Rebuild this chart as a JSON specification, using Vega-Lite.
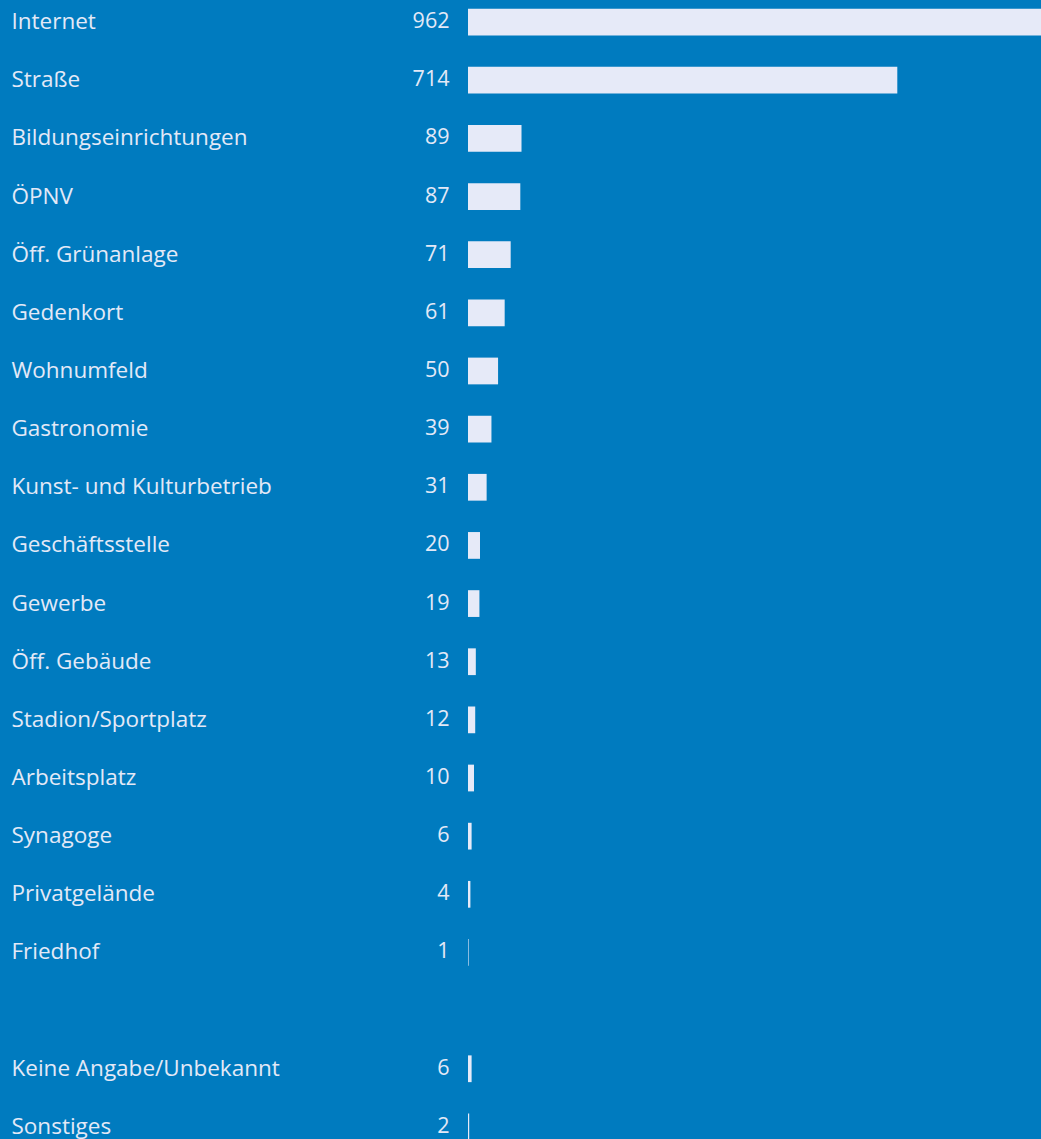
{
  "$schema": "https://vega.github.io/schema/vega-lite/v6.json",
  "autosize": "none",
  "width": 573,
  "height": 1149,
  "padding": {"left": 468, "top": 0, "right": 0, "bottom": 0},
  "background": "#007BBF",
  "config": {"view": {"stroke": null}},
  "data": {"values": [
    {"ort": "Internet", "anzahl": 962},
    {"ort": "Straße", "anzahl": 714},
    {"ort": "Bildungseinrichtungen", "anzahl": 89},
    {"ort": "ÖPNV", "anzahl": 87},
    {"ort": "Öff. Grünanlage", "anzahl": 71},
    {"ort": "Gedenkort", "anzahl": 61},
    {"ort": "Wohnumfeld", "anzahl": 50},
    {"ort": "Gastronomie", "anzahl": 39},
    {"ort": "Kunst- und Kulturbetrieb", "anzahl": 31},
    {"ort": "Geschäftsstelle", "anzahl": 20},
    {"ort": "Gewerbe", "anzahl": 19},
    {"ort": "Öff. Gebäude", "anzahl": 13},
    {"ort": "Stadion/Sportplatz", "anzahl": 12},
    {"ort": "Arbeitsplatz", "anzahl": 10},
    {"ort": "Synagoge", "anzahl": 6},
    {"ort": "Privatgelände", "anzahl": 4},
    {"ort": "Friedhof", "anzahl": 1},
    {"ort": "Keine Angabe/Unbekannt", "anzahl": 6},
    {"ort": "Sonstiges", "anzahl": 2}
  ]},
  "encoding": {
    "y": {
      "field": "ort",
      "type": "nominal",
      "scale": {
        "domain": ["Internet", "Straße", "Bildungseinrichtungen", "ÖPNV", "Öff. Grünanlage", "Gedenkort", "Wohnumfeld", "Gastronomie", "Kunst- und Kulturbetrieb", "Geschäftsstelle", "Gewerbe", "Öff. Gebäude", "Stadion/Sportplatz", "Arbeitsplatz", "Synagoge", "Privatgelände", "Friedhof", " ", "Keine Angabe/Unbekannt", "Sonstiges"],
        "paddingInner": 0.54,
        "paddingOuter": 0.15
      },
      "axis": {
        "title": null,
        "domain": false,
        "ticks": false,
        "labelAlign": "left",
        "labelPadding": 457,
        "labelLimit": 440,
        "labelColor": "#E3E9F7",
        "labelFont": "Open Sans",
        "labelFontSize": 22.5,
        "labelBaseline": "middle",
        "labelOffset": 0
      }
    }
  },
  "layer": [
    {
      "mark": {"type": "bar", "color": "#E6EAF8", "clip": true},
      "encoding": {
        "x": {
          "field": "anzahl",
          "type": "quantitative",
          "scale": {"domain": [0, 953], "clamp": true, "nice": false, "zero": true},
          "axis": null
        }
      }
    },
    {
      "mark": {"type": "text", "align": "right", "baseline": "middle", "dx": -18.5, "dy": 0, "font": "Open Sans", "fontSize": 21.5, "color": "#E3E9F7"},
      "encoding": {
        "x": {"datum": 0, "type": "quantitative"},
        "text": {"field": "anzahl", "type": "quantitative"}
      }
    }
  ]
}
